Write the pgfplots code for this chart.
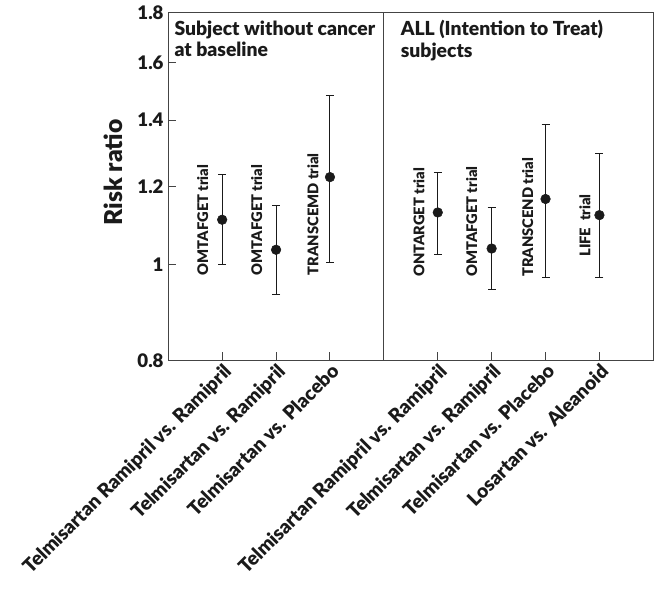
\documentclass[border=0pt]{standalone}
\usepackage{fontspec}
\setmainfont{Lato}[BoldFont={Lato Black}]
\usepackage{pgfplots}
\usepackage{pgfplotstable}
\pgfplotsset{compat=1.18}
\definecolor{ink}{HTML}{1A1A1A}
\definecolor{axisgray}{HTML}{444444}
\pgfplotstableread{
x   y      lo     hi
1   1.110  1.000  1.234
2   1.035  0.932  1.148
3   1.226  1.005  1.484
5   1.129  1.024  1.239
6   1.038  0.944  1.141
7   1.165  0.971  1.387
8   1.122  0.971  1.295
}\datatable
\begin{document}
\begin{tikzpicture}
\begin{axis}[
  name=ax,
  at={(0pt,0pt)}, anchor=south west,
  scale only axis, width=363.75pt, height=261pt,
  ymode=log, ymin=0.8, ymax=1.8, xmin=0, xmax=9,
  axis line style={axisgray, line width=0.8pt},
  every tick/.style={axisgray, line width=0.8pt},
  xtick={1,2,3,5,6,7,8},
  xticklabels={Telmisartan Ramipril vs. Ramipril, Telmisartan vs. Ramipril, Telmisartan vs. Placebo, Telmisartan Ramipril vs. Ramipril, Telmisartan vs. Ramipril, Telmisartan vs. Placebo, Losartan vs.\ \ Aleanoid},
  xticklabel style={rotate=45, anchor=north east, inner sep=1pt, text=ink, font=\bfseries\fontsize{14.5}{16}\selectfont},
  ytick={0.8,1,1.2,1.4,1.6,1.8}, yticklabels={0.8,1,1.2,1.4,1.6,1.8},
  yticklabel style={text=ink, font=\bfseries\fontsize{14}{16}\selectfont},
  minor y tick num=0,
  tick pos=left, tick align=inside, major tick length=6pt,
  ylabel={Risk ratio},
  ylabel style={at={(rel axis cs:-0.113,0.54)}, anchor=center, text=ink, font=\bfseries\fontsize{18.5}{20}\selectfont},
  clip=false,
]
\addplot[ink, no marks, line width=0.8pt, draw=axisgray] coordinates {(4,0.8) (4,1.8)};
\addplot[only marks, mark=*, mark size=3.6pt, color=ink,
  error bars/.cd, y dir=both, y explicit,
  error bar style={line width=0.8pt, ink},
  error mark options={rotate=90, mark size=3pt, line width=0.8pt, ink}]
  table[x=x, y=y, y error plus expr=\thisrow{hi}-\thisrow{y}, y error minus expr=\thisrow{y}-\thisrow{lo}] {\datatable};
\begin{scope}[every node/.style={rotate=90, anchor=west, inner sep=0pt, text=ink, font=\bfseries\fontsize{11}{13}\selectfont}]
\node at (axis cs:0.64,0.975) {OMTAFGET trial};
\node at (axis cs:1.64,0.975) {OMTAFGET trial};
\node at (axis cs:2.685,0.975) {TRANSCEMD trial};
\node at (axis cs:4.65,0.971) {ONTARGET trial};
\node at (axis cs:5.63,0.971) {OMTAFGET trial};
\node at (axis cs:6.67,0.971) {TRANSCEND trial};
\node at (axis cs:7.73,1.018) {LIFE\ \ trial};
\end{scope}
\node[anchor=north west, align=left, inner sep=0pt, text=ink, font=\bfseries\fontsize{14.5}{16.2}\selectfont] at ([xshift=4.5pt,yshift=-6pt]rel axis cs:0,1) {Subject without cancer\\at baseline};
\node[anchor=north west, align=left, inner sep=0pt, text=ink, font=\bfseries\fontsize{14.5}{16.2}\selectfont] at ([xshift=12.5pt,yshift=-6pt]axis cs:4,1.8) {ALL (Intention to Treat)\\subjects};
\end{axis}
\pgfresetboundingbox
\path[use as bounding box] (-126.2pt,-171pt) rectangle (366.5pt,270.2pt);
\end{tikzpicture}
\end{document}
